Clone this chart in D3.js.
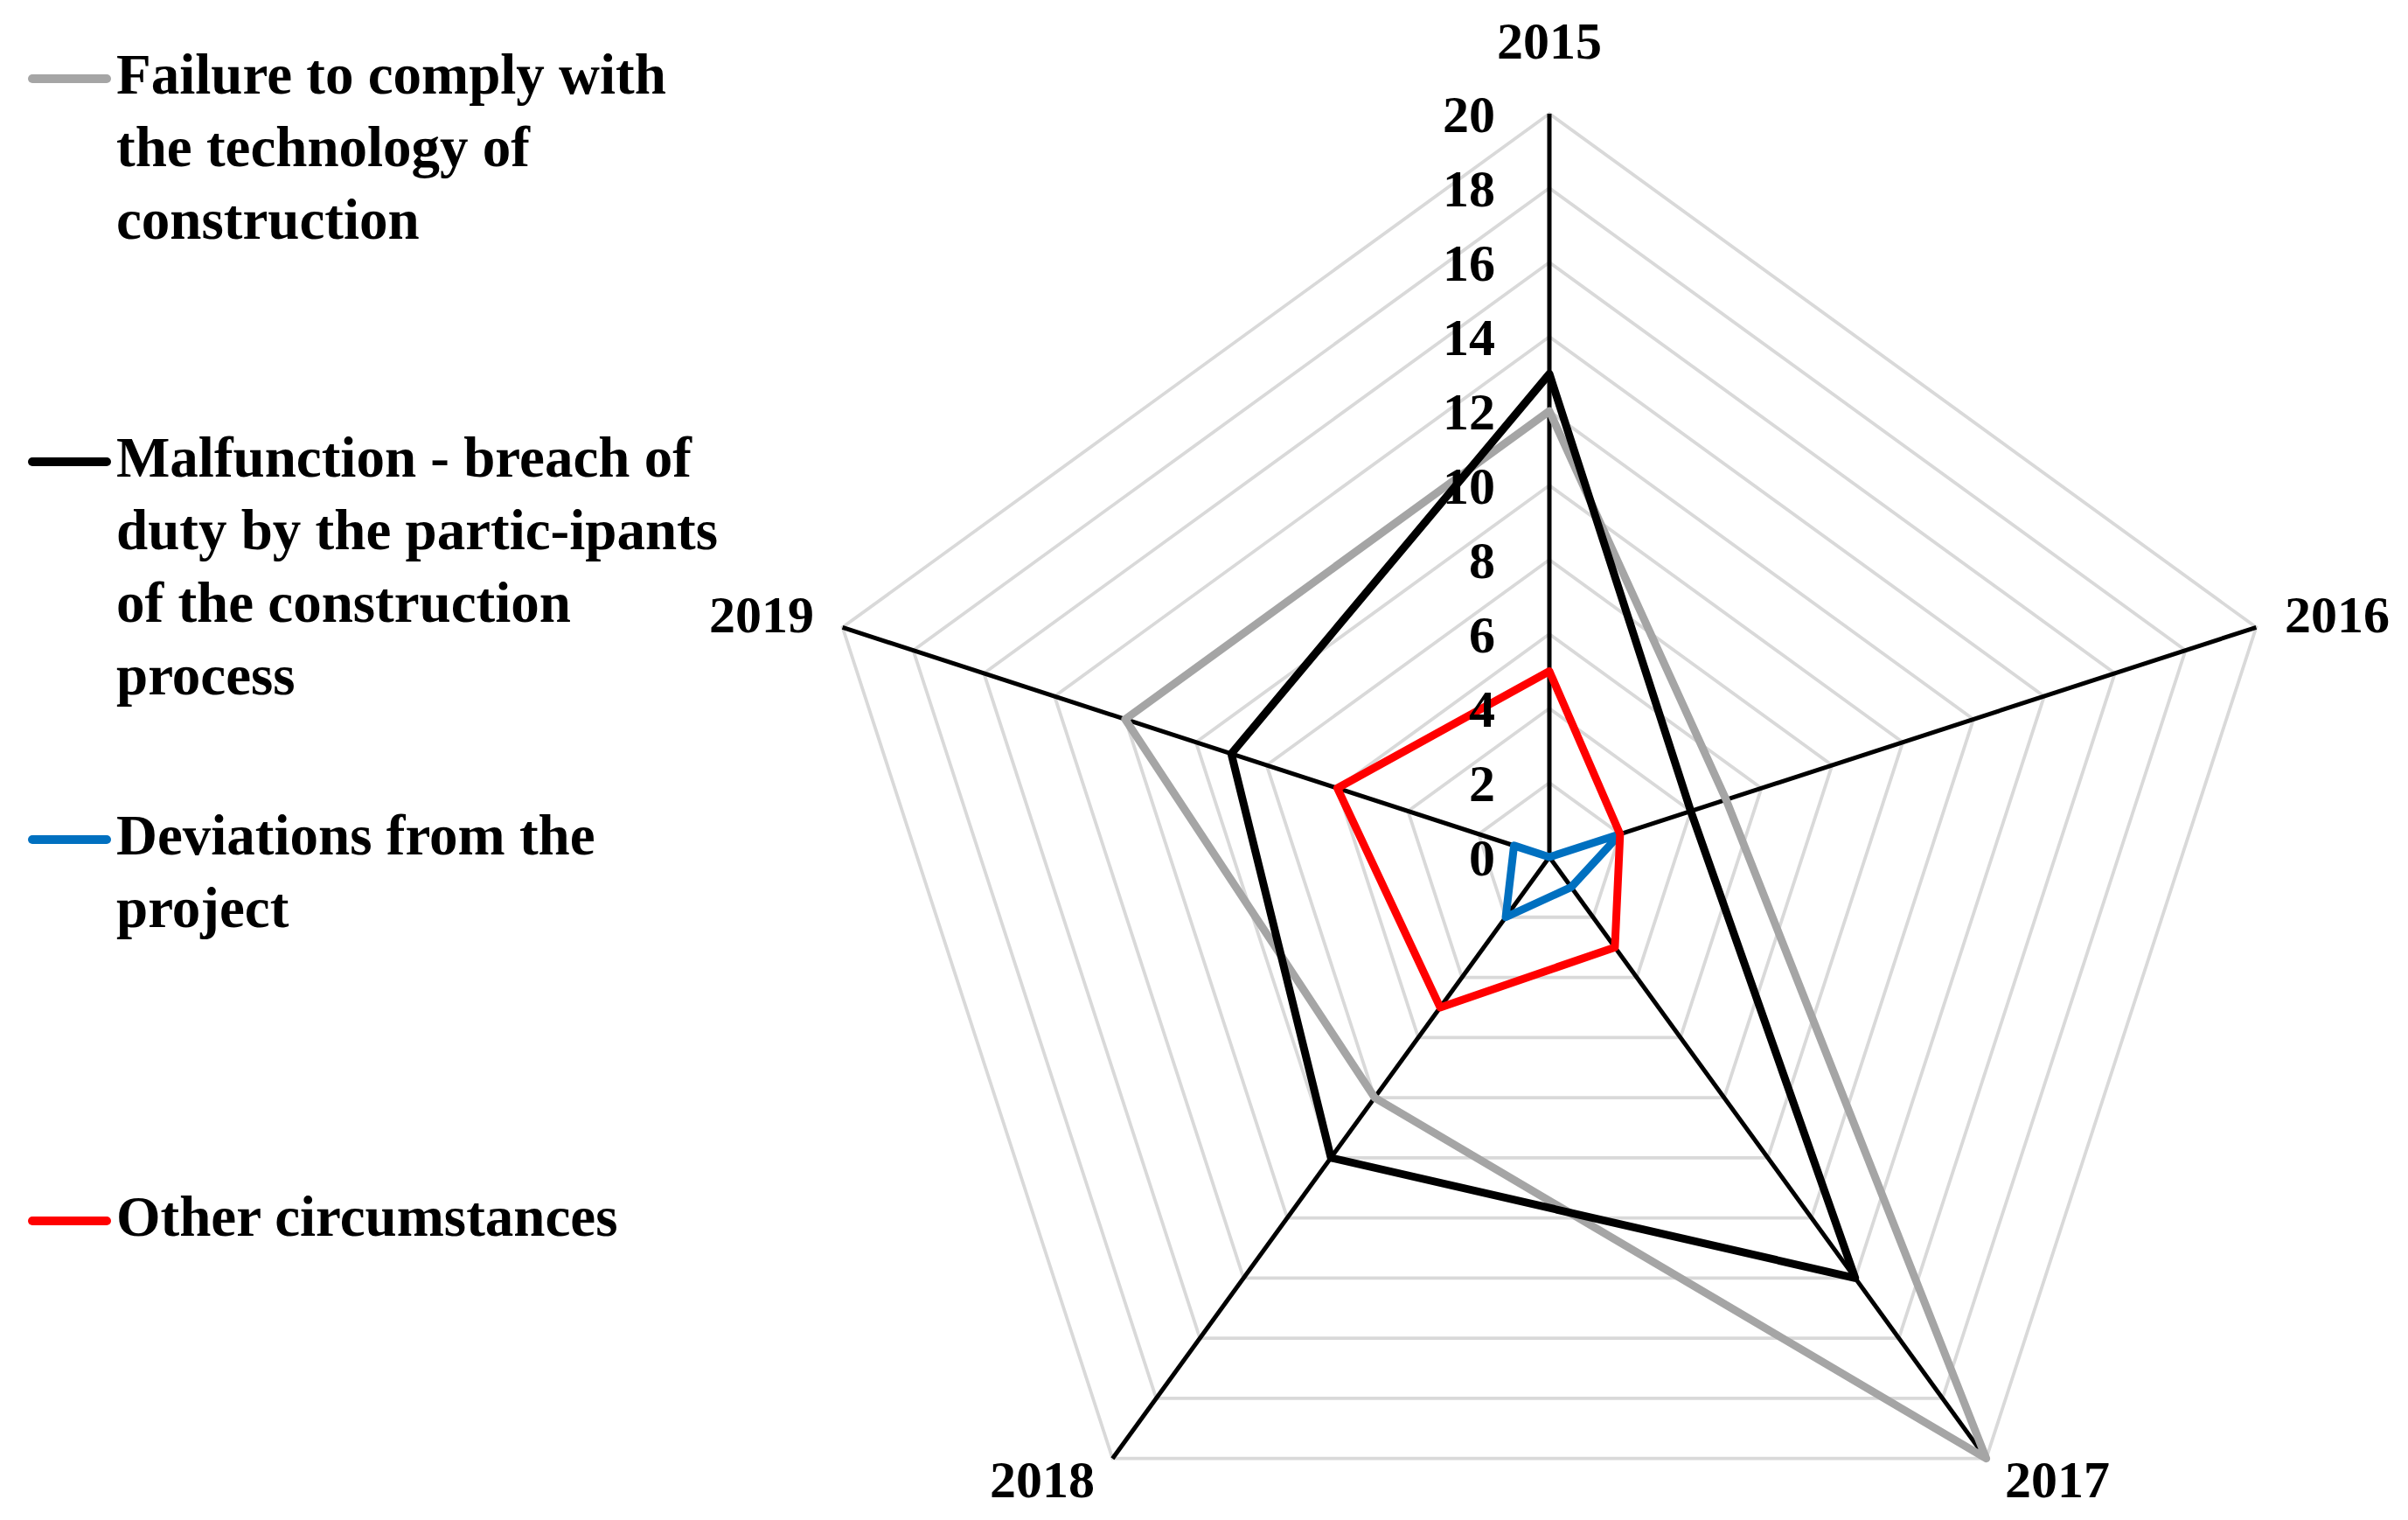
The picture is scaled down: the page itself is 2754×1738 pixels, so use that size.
<!DOCTYPE html>
<html>
<head>
<meta charset="utf-8">
<script src="https://cdn.jsdelivr.net/npm/d3@7"></script>
<style>
  html, body { margin: 0; padding: 0; background: #fff; }
  svg { display: block; }
  text { font-family: "Liberation Serif", "Times New Roman", serif; font-weight: bold; fill: #000; }
</style>
</head>
<body>
<svg id="chart" width="2754" height="1738"></svg>
<script>
// ---- data ----
const categories = ["2015", "2016", "2017", "2018", "2019"];
const tickValues = [0, 2, 4, 6, 8, 10, 12, 14, 16, 18, 20];
const seriesNames = [
  ["Failure to comply with", "the technology of", "construction"],
  ["Malfunction - breach of", "duty by the partic-ipants", "of the construction", "process"],
  ["Deviations from the", "project"],
  ["Other circumstances"]
];
const failureValues     = [12, 5, 20, 8, 12];
const malfunctionValues = [13, 4, 14, 10, 9];
const deviationValues   = [0, 2, 1, 2, 1];
const otherValues       = [5, 2, 3, 5, 6];
const seriesColors = ["#A5A5A5", "#000000", "#0070C0", "#FF0000"];

// ---- layout ----
const cx = 1772, cy = 980, R = 850;
const svg = d3.select("#chart");
const g = svg.append("g").attr("transform", `translate(${cx},${cy})`);

const r = d3.scaleLinear().domain([0, 20]).range([0, R]);
const angle = d3.scaleLinear().domain([0, categories.length]).range([0, 2 * Math.PI]);
const px = (i, v) => r(v) * Math.sin(angle(i));
const py = (i, v) => -r(v) * Math.cos(angle(i));

// grid rings
const ring = d3.lineRadial()
  .angle((d, i) => angle(i))
  .radius(d => r(d))
  .curve(d3.curveLinearClosed);

g.append("g").selectAll("path")
  .data(tickValues.filter(t => t > 0))
  .join("path")
  .attr("d", t => ring(categories.map(() => t)))
  .attr("fill", "none")
  .attr("stroke", "#D9D9D9")
  .attr("stroke-width", 3.8);

// spokes
g.append("g").selectAll("line")
  .data(categories)
  .join("line")
  .attr("x1", 0).attr("y1", 0)
  .attr("x2", (d, i) => px(i, 20))
  .attr("y2", (d, i) => py(i, 20))
  .attr("stroke", "#000")
  .attr("stroke-width", 5);

// series
const allSeries = [failureValues, malfunctionValues, deviationValues, otherValues];
const seriesLine = d3.lineRadial()
  .angle((d, i) => angle(i))
  .radius(d => r(d))
  .curve(d3.curveLinearClosed);

g.append("g").selectAll("path")
  .data(allSeries)
  .join("path")
  .attr("d", d => seriesLine(d))
  .attr("fill", "none")
  .attr("stroke", (d, i) => seriesColors[i])
  .attr("stroke-width", 9)
  .attr("stroke-linejoin", "round");

// tick labels
g.append("g").selectAll("text")
  .data(tickValues)
  .join("text")
  .attr("x", -62)
  .attr("y", d => -r(d))
  .attr("dy", "0.35em")
  .attr("text-anchor", "end")
  .style("font-size", "60px")
  .text(d => d);

// category labels
const catPos = [
  {x: 0, y: -913, anchor: "middle"},
  {x: 841, y: -257, anchor: "start"},
  {x: 521, y: 732, anchor: "start"},
  {x: -520, y: 732, anchor: "end"},
  {x: -841, y: -257, anchor: "end"}
];
g.append("g").selectAll("text")
  .data(categories)
  .join("text")
  .attr("x", (d, i) => catPos[i].x)
  .attr("y", (d, i) => catPos[i].y)
  .attr("text-anchor", (d, i) => catPos[i].anchor)
  .style("font-size", "60px")
  .text(d => d);

// legend
const legendTop = [107, 545, 977, 1413];
const lineGap = 83;
const leg = svg.append("g");
seriesNames.forEach((lines, i) => {
  const y0 = legendTop[i];
  leg.append("line")
    .attr("x1", 37).attr("x2", 122)
    .attr("y1", y0 - 17).attr("y2", y0 - 17)
    .attr("stroke", seriesColors[i])
    .attr("stroke-width", 10)
    .attr("stroke-linecap", "round");
  const t = leg.append("text").attr("x", 133).attr("y", y0).style("font-size", "65px");
  lines.forEach((ln, j) => {
    t.append("tspan").attr("x", 133).attr("y", y0 + j * lineGap).text(ln);
  });
});
</script>
</body>
</html>
